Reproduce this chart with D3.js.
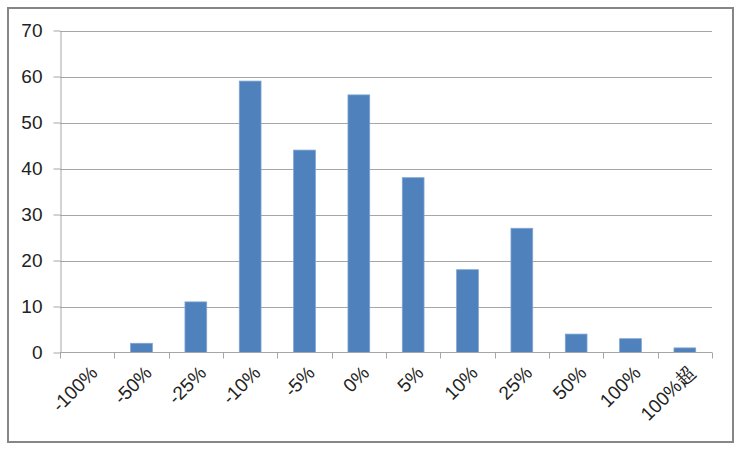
<!DOCTYPE html>
<html><head><meta charset="utf-8">
<script src="https://cdn.jsdelivr.net/npm/d3@7"></script>
<style>body{margin:0;background:#fff}</style>
</head><body>
<svg id="c" width="742" height="451"></svg>
<script>
const categories = ["-100%","-50%","-25%","-10%","-5%","0%","5%","10%","25%","50%","100%","100%超"];
const values = [0,2,11,59,44,56,38,18,27,4,3,1];
const yTicks = [0,10,20,30,40,50,60,70];

const svg = d3.select("#c");
svg.append("rect").attr("x",8).attr("y",8).attr("width",725).attr("height",434)
  .attr("fill","#fff").attr("stroke","#868686").attr("stroke-width",2);

const L=60,R=712,T=30.5,B=352.5;
const x = d3.scaleBand().domain(categories).range([L,R]).paddingInner(0.6).paddingOuter(0.3);
const xb = d3.scaleBand().domain(categories).range([L,R]);
const y = d3.scaleLinear().domain([0,70]).range([B,T]);
const font = "'Liberation Sans', Arial, sans-serif";

// gridlines
svg.append("g").selectAll("line").data(yTicks.filter(d=>d>0)).join("line")
  .attr("x1",L).attr("x2",R).attr("y1",d=>Math.round(y(d))+0.5).attr("y2",d=>Math.round(y(d))+0.5)
  .attr("stroke","#a6a6a6").attr("stroke-width",1.2);

// y axis
const ya = svg.append("g").attr("transform",`translate(${L+0.5},0)`)
  .call(d3.axisLeft(y).tickValues(yTicks).tickSize(7).tickPadding(11).tickSizeOuter(0));
ya.select(".domain").attr("stroke","#a6a6a6");
ya.selectAll(".tick line").attr("stroke","#a6a6a6");
ya.selectAll("text").attr("font-family",font).attr("font-size",19).attr("fill","#222");

// bars
svg.append("g").selectAll("rect").data(values).join("rect")
  .attr("x",(d,i)=>x(categories[i]))
  .attr("width",x.bandwidth())
  .attr("y",d=>y(d)).attr("height",d=>B-y(d))
  .attr("fill","#4f81bd").attr("stroke","#7fa3d0").attr("stroke-width",0.8);

// x axis
const xa = svg.append("g").attr("transform",`translate(0,${B})`);
xa.append("line").attr("x1",L).attr("x2",R).attr("y1",0).attr("y2",0).attr("stroke","#a6a6a6").attr("stroke-width",1.2);
const bounds = categories.map(c=>xb(c)).concat([R]);
xa.selectAll("line.t").data(bounds).join("line").attr("class","t")
  .attr("x1",d=>Math.round(d)+0.5).attr("x2",d=>Math.round(d)+0.5).attr("y1",0).attr("y2",6)
  .attr("stroke","#a6a6a6");
xa.selectAll("text").data(categories).join("text")
  .attr("transform",d=>`translate(${xb(d)+xb.bandwidth()/2+2},${12}) rotate(-45)`)
  .attr("text-anchor","end").attr("dy","0.71em")
  .attr("font-family",font).attr("font-size",19).attr("fill","#222")
  .text(d=>d);
</script>
</body></html>
